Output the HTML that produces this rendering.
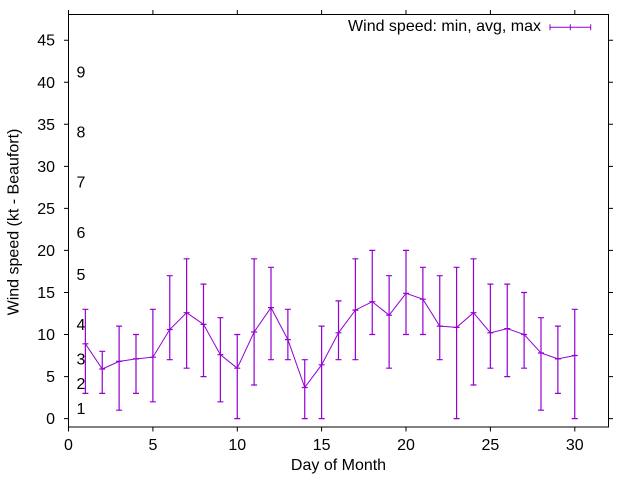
<!DOCTYPE html>
<html>
<head>
<meta charset="utf-8">
<style>
html,body{margin:0;padding:0;background:#fff;}
svg{display:block;}
text{font-family:"Liberation Sans",Arial,sans-serif;font-size:16px;fill:#000;}
</style>
</head>
<body>
<svg width="640" height="480" viewBox="0 0 640 480" xmlns="http://www.w3.org/2000/svg">
<rect x="0" y="0" width="640" height="480" fill="#fff"/>

<!-- border -->
<rect x="68.5" y="14.5" width="540" height="412.5" fill="none" stroke="#000" stroke-width="1"/>

<!-- y ticks (outward, mirrored) -->
<g stroke="#000" stroke-width="1">
<path d="M64,418.6H68.5 M64,376.6H68.5 M64,334.5H68.5 M64,292.5H68.5 M64,250.4H68.5 M64,208.4H68.5 M64,166.4H68.5 M64,124.3H68.5 M64,82.3H68.5 M64,40.2H68.5"/>
<path d="M608.5,418.6H613 M608.5,376.6H613 M608.5,334.5H613 M608.5,292.5H613 M608.5,250.4H613 M608.5,208.4H613 M608.5,166.4H613 M608.5,124.3H613 M608.5,82.3H613 M608.5,40.2H613"/>
<path d="M68.5,427V431.5 M152.9,427V431.5 M237.3,427V431.5 M321.6,427V431.5 M406,427V431.5 M490.4,427V431.5 M574.8,427V431.5"/>
<path d="M68.5,14.5V10 M152.9,14.5V10 M237.3,14.5V10 M321.6,14.5V10 M406,14.5V10 M490.4,14.5V10 M574.8,14.5V10"/>
</g>

<!-- y tick labels -->
<g text-anchor="end">
<text x="55" y="424.1">0</text>
<text x="55" y="382.1">5</text>
<text x="55" y="340">10</text>
<text x="55" y="298">15</text>
<text x="55" y="255.9">20</text>
<text x="55" y="213.9">25</text>
<text x="55" y="171.9">30</text>
<text x="55" y="129.8">35</text>
<text x="55" y="87.8">40</text>
<text x="55" y="45.7">45</text>
</g>

<!-- x tick labels -->
<g text-anchor="middle">
<text x="68.5" y="450">0</text>
<text x="152.9" y="450">5</text>
<text x="237.3" y="450">10</text>
<text x="321.6" y="450">15</text>
<text x="406" y="450">20</text>
<text x="490.4" y="450">25</text>
<text x="574.8" y="450">30</text>
</g>

<!-- axis titles -->
<text x="338.5" y="470" text-anchor="middle">Day of Month</text>
<text transform="translate(18.5,222) rotate(-90)" text-anchor="middle">Wind speed (kt - Beaufort)</text>

<!-- Beaufort labels -->
<g>
<text x="76.5" y="77.4">9</text>
<text x="76.5" y="137.4">8</text>
<text x="76.5" y="187.4">7</text>
<text x="76.5" y="238">6</text>
<text x="76.5" y="280">5</text>
<text x="76.5" y="330.2">4</text>
<text x="76.5" y="364.5">3</text>
<text x="76.5" y="389">2</text>
<text x="76.5" y="414">1</text>
</g>

<!-- legend -->
<text x="541" y="31" text-anchor="end">Wind speed: min, avg, max</text>
<g stroke="#9400d3" stroke-width="1" fill="none">
<path d="M550,27.3H590.7 M550,24.3V30.3 M590.7,24.3V30.3 M570.3,24.3V30.3"/>
</g>

<!-- connecting line -->
<polyline fill="none" stroke="#9400d3" stroke-width="1" points="85.375,343.8 102.25,369.0 119.125,361.4 136,358.9 152.875,357.2 169.75,329.5 186.625,312.7 203.5,324.4 220.375,354.7 237.25,368.2 254.125,332.0 271,307.6 287.875,339.6 304.75,387.5 321.625,364.8 338.5,332.8 355.375,310.1 372.25,301.7 389.125,315.2 406,293.3 422.875,299.2 439.75,326.1 456.625,327.4 473.5,312.7 490.375,332.8 507.25,328.6 524.125,334.5 541,353.0 557.875,358.9 574.75,355.5"/>

<!-- error bars -->
<g stroke="#9400d3" stroke-width="1.2" fill="none">
<path d="M85.375,393.4V309.3 M82.4,393.4h6 M82.4,309.3h6 M82.4,343.8h6"/>
<path d="M102.25,393.4V351.3 M99.25,393.4h6 M99.25,351.3h6 M99.25,369.0h6"/>
<path d="M119.125,410.2V326.1 M116.1,410.2h6 M116.1,326.1h6 M116.1,361.4h6"/>
<path d="M136,393.4V334.5 M133,393.4h6 M133,334.5h6 M133,358.9h6"/>
<path d="M152.875,401.8V309.3 M149.9,401.8h6 M149.9,309.3h6 M149.9,357.2h6"/>
<path d="M169.75,359.7V275.7 M166.75,359.7h6 M166.75,275.7h6 M166.75,329.5h6"/>
<path d="M186.625,368.2V258.8 M183.6,368.2h6 M183.6,258.8h6 M183.6,312.7h6"/>
<path d="M203.5,376.6V284.1 M200.5,376.6h6 M200.5,284.1h6 M200.5,324.4h6"/>
<path d="M220.375,401.8V317.7 M217.4,401.8h6 M217.4,317.7h6 M217.4,354.7h6"/>
<path d="M237.25,418.6V334.5 M234.25,418.6h6 M234.25,334.5h6 M234.25,368.2h6"/>
<path d="M254.125,385.0V258.8 M251.1,385.0h6 M251.1,258.8h6 M251.1,332.0h6"/>
<path d="M271,359.7V267.3 M268,359.7h6 M268,267.3h6 M268,307.6h6"/>
<path d="M287.875,359.7V309.3 M284.9,359.7h6 M284.9,309.3h6 M284.9,339.6h6"/>
<path d="M304.75,418.6V359.7 M301.75,418.6h6 M301.75,359.7h6 M301.75,387.5h6"/>
<path d="M321.625,418.6V326.1 M318.6,418.6h6 M318.6,326.1h6 M318.6,364.8h6"/>
<path d="M338.5,359.7V300.9 M335.5,359.7h6 M335.5,300.9h6 M335.5,332.8h6"/>
<path d="M355.375,359.7V258.8 M352.4,359.7h6 M352.4,258.8h6 M352.4,310.1h6"/>
<path d="M372.25,334.5V250.4 M369.25,334.5h6 M369.25,250.4h6 M369.25,301.7h6"/>
<path d="M389.125,368.2V275.7 M386.1,368.2h6 M386.1,275.7h6 M386.1,315.2h6"/>
<path d="M406,334.5V250.4 M403,334.5h6 M403,250.4h6 M403,293.3h6"/>
<path d="M422.875,334.5V267.3 M419.9,334.5h6 M419.9,267.3h6 M419.9,299.2h6"/>
<path d="M439.75,359.7V275.7 M436.75,359.7h6 M436.75,275.7h6 M436.75,326.1h6"/>
<path d="M456.625,418.6V267.3 M453.6,418.6h6 M453.6,267.3h6 M453.6,327.4h6"/>
<path d="M473.5,385.0V258.8 M470.5,385.0h6 M470.5,258.8h6 M470.5,312.7h6"/>
<path d="M490.375,368.2V284.1 M487.4,368.2h6 M487.4,284.1h6 M487.4,332.8h6"/>
<path d="M507.25,376.6V284.1 M504.25,376.6h6 M504.25,284.1h6 M504.25,328.6h6"/>
<path d="M524.125,368.2V292.5 M521.1,368.2h6 M521.1,292.5h6 M521.1,334.5h6"/>
<path d="M541,410.2V317.7 M538,410.2h6 M538,317.7h6 M538,353.0h6"/>
<path d="M557.875,393.4V326.1 M554.9,393.4h6 M554.9,326.1h6 M554.9,358.9h6"/>
<path d="M574.75,418.6V309.3 M571.75,418.6h6 M571.75,309.3h6 M571.75,355.5h6"/>
</g>
</svg>
</body>
</html>
